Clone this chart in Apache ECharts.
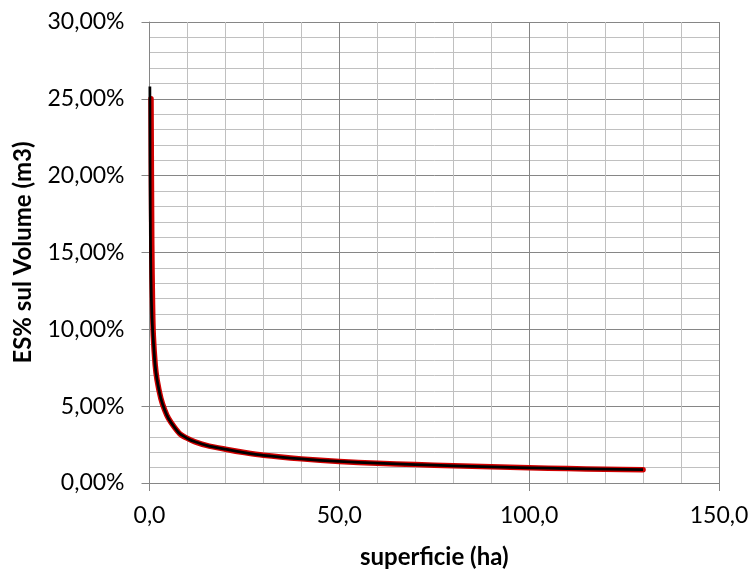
<!DOCTYPE html>
<html>
<head>
<meta charset="utf-8">
<script src="https://cdn.jsdelivr.net/npm/echarts@6/dist/echarts.min.js"></script>
<style>
  html, body { margin: 0; padding: 0; background: #ffffff; }
  #chart { width: 753px; height: 574px; }
</style>
</head>
<body>
<div id="chart"></div>
<script>
// Surface (ha) against ES% on volume (m3)
const areaHa = [0.4, 0.6, 0.8, 1.0, 1.5, 2.0, 3.0, 4.0, 5.0, 6.5, 8.0, 10, 12, 15, 20, 25, 30, 40, 50, 60, 70, 80, 90, 100, 110, 120, 130];
const esMeasured = [25.0, 15.5, 11.6, 9.6, 7.7, 6.7, 5.5, 4.75, 4.2, 3.65, 3.2, 2.9, 2.68, 2.45, 2.2, 1.98, 1.80, 1.57, 1.40, 1.29, 1.20, 1.12, 1.05, 0.99, 0.94, 0.90, 0.87];

const trendArea = [0.1, 0.15, 0.2, 0.3, 0.5, 0.75, 1.0, 1.5, 2.0, 3.0, 4.0, 5.0, 6.5, 8.0, 10, 12, 15, 20, 25, 30, 40, 50, 60, 70, 80, 90, 100, 110, 120, 130];
const esTrend = [25.8, 20.8, 17.8, 14.6, 11.9, 10.3, 9.3, 7.6, 6.7, 5.5, 4.75, 4.2, 3.65, 3.2, 2.9, 2.68, 2.45, 2.2, 1.98, 1.80, 1.57, 1.40, 1.29, 1.20, 1.12, 1.05, 0.99, 0.94, 0.90, 0.87];

const xTicks = { min: 0, max: 150, step: 50 };
const yTicks = { min: 0, max: 30, step: 5 };

const pairs = (xs, ys) => xs.map((x, i) => [x, ys[i]]);

const major = '#868686';
const minor = '#c0c0c0';
const font = 'Lato, "Open Sans", sans-serif';

const chart = echarts.init(document.getElementById('chart'), null, { renderer: 'canvas' });
chart.setOption({
  animation: false,
  backgroundColor: '#ffffff',
  grid: { left: 149.5, right: 34, top: 22, bottom: 87, containLabel: false },
  xAxis: {
    type: 'value',
    min: xTicks.min, max: xTicks.max, interval: xTicks.step,
    name: 'superficie (ha)',
    nameLocation: 'middle',
    nameGap: 62,
    nameTextStyle: { fontFamily: font, fontWeight: 'bold', fontSize: 24, color: '#000' },
    axisLine: { show: true, onZero: false, lineStyle: { color: major, width: 1 } },
    axisTick: { show: true, inside: false, length: 8, lineStyle: { color: major } },
    axisLabel: {
      margin: 21, fontFamily: font, fontSize: 23, color: '#000',
      formatter: v => v.toFixed(1).replace('.', ',')
    },
    splitLine: { show: true, lineStyle: { color: major, width: 1 } },
    minorTick: { show: false, splitNumber: 5 },
    minorSplitLine: { show: true, lineStyle: { color: minor, width: 1 } }
  },
  yAxis: {
    type: 'value',
    min: yTicks.min, max: yTicks.max, interval: yTicks.step,
    name: 'ES% sul Volume (m3)',
    nameLocation: 'middle',
    nameGap: 114,
    nameTextStyle: { fontFamily: font, fontWeight: 'bold', fontSize: 24, color: '#000' },
    axisLine: { show: true, lineStyle: { color: major, width: 1 } },
    axisTick: { show: true, inside: false, length: 8, lineStyle: { color: major } },
    axisLabel: {
      margin: 25, fontFamily: font, fontSize: 23, color: '#000',
      formatter: v => v.toFixed(2).replace('.', ',') + '%'
    },
    splitLine: { show: true, lineStyle: { color: major, width: 1 } },
    minorTick: { show: false, splitNumber: 5 },
    minorSplitLine: { show: true, lineStyle: { color: minor, width: 1 } }
  },
  series: [
    {
      name: 'ES% misurato',
      type: 'line',
      data: pairs(areaHa, esMeasured),
      showSymbol: false,
      smooth: 0.25,
      lineStyle: { color: '#d00000', width: 5.5, cap: 'round', join: 'round' },
      z: 3
    },
    {
      name: 'Tendenza',
      type: 'line',
      data: pairs(trendArea, esTrend),
      showSymbol: false,
      smooth: 0.25,
      lineStyle: { color: '#000000', width: 2.75, cap: 'butt', join: 'round' },
      z: 4
    }
  ]
});
</script>
</body>
</html>
